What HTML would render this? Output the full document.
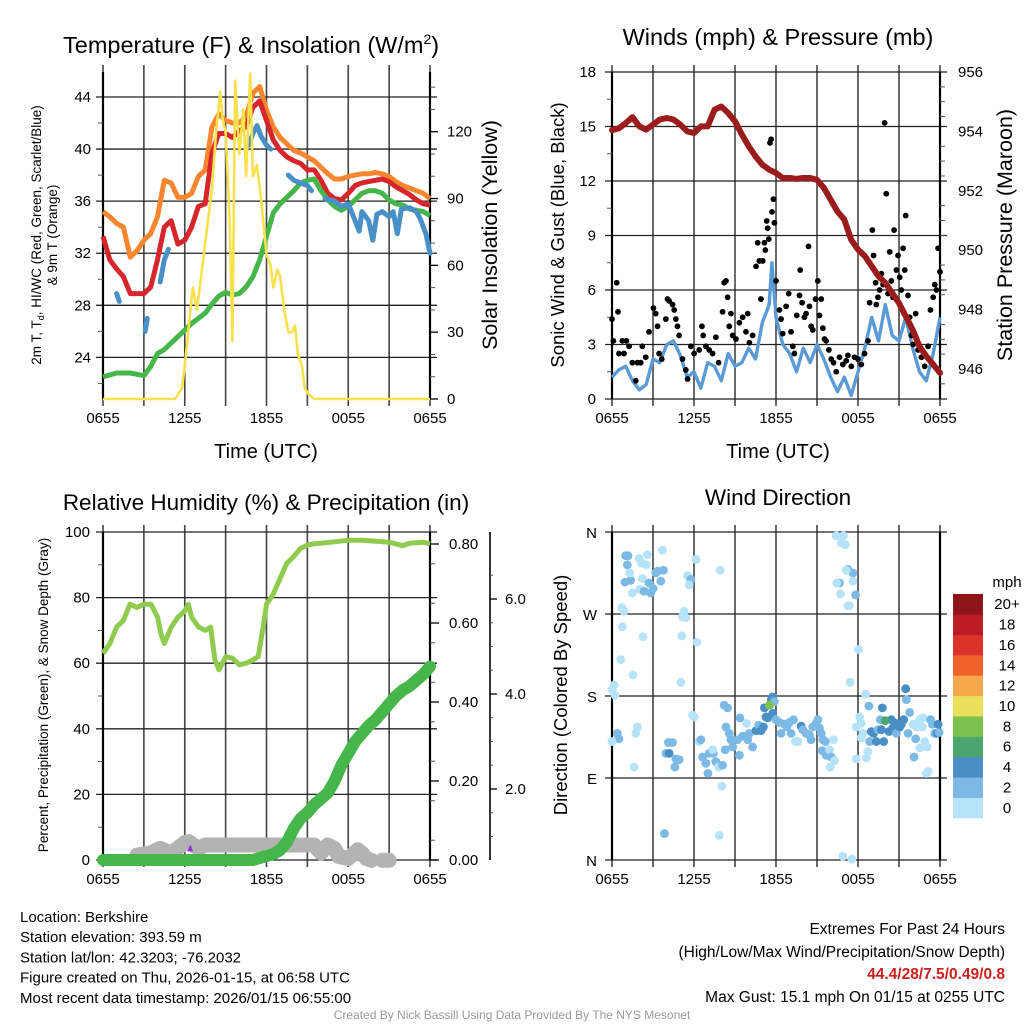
<!DOCTYPE html>
<html><head><meta charset="utf-8"><title>Mesonet Meteogram</title>
<style>
html,body{margin:0;padding:0;background:#fff;}
svg{display:block;font-family:"Liberation Sans",Arial,sans-serif;}
</style></head>
<body>
<svg id="fig" width="1024" height="1024" viewBox="0 0 1024 1024"></svg>
<script>
// ===== DATA =====
// Temperature panel (hours since 0655 UTC)
const tHours = [0,0.5,1,1.5,2,2.5,3,3.5,4,4.5,5,5.5,6,6.5,7,7.5,8,8.5,9,9.5,10,10.5,11,11.5,12,12.5,13,13.5,14,14.5,15,15.5,16,16.5,17,17.5,18,18.5,19,19.5,20,20.5,21,21.5,22,22.5,23,23.5,24];
const temp2m = [33.3,31.5,30.8,30.2,28.9,28.9,28.9,29.4,31.5,34,34.5,32.7,33,34,35.6,35.8,39.7,41.2,41.2,40.9,41.4,41.7,43.2,43.7,42.2,40.7,39.9,39.4,39.1,38.9,38.4,38.4,37.6,36.6,36.2,36.1,36.6,37.2,37.4,37.5,37.6,37.7,37.5,37.1,36.8,36.5,36.1,35.8,35.7];
const temp9m = [35.2,34.8,34.3,34,31.7,32.2,33,33.5,34.8,37.6,37.4,36.3,36.3,36.6,37.9,38.4,41.7,42.7,42.2,42,42,42.5,44.3,44.8,43,41.7,40.9,40.4,39.9,39.7,39.4,39.1,38.6,38.1,37.7,37.7,37.9,38,38.1,38.1,38.2,38.1,37.9,37.5,37.2,37,36.8,36.6,36.2];
const dewHours = [0,1,2,3,3.5,4,4.5,5,5.5,6,6.5,7,7.5,8,8.5,9,9.5,10,10.5,11,11.5,12,12.5,13,13.5,14,14.5,15,15.5,16,16.5,17,17.5,18,18.5,19,19.5,20,20.5,21,21.5,22,22.5,23,23.5,24];
const dewpoint = [22.5,22.8,22.8,22.6,23.3,24.3,24.6,25.1,25.6,26.1,26.6,27,27.4,28.1,28.7,29,28.8,28.9,29.4,30.2,31.5,33.3,35.1,35.8,36.3,36.8,37.4,37.6,37.7,36.8,36.1,35.6,35.3,35.6,36.1,36.6,36.8,36.8,36.6,36.1,35.8,35.7,35.4,35.3,35.2,34.9];
const hiwcHours = [1.0,1.2,null,3.1,3.25,null,4.2,4.5,4.8,null,10.7,11.0,11.3,11.6,12.0,12.3,null,13.6,14.0,14.5,15.0,15.3,null,16.3,17,17.5,18,18.5,18.8,19,19.5,19.8,20.1,20.5,21,21.3,21.6,21.9,22.5,23,23.3,23.7,24];
const hiwc = [28.9,28.3,null,26.0,27.0,null,29.8,31.5,32.3,null,40.3,41.2,41.8,41.0,40.3,40.0,null,38.0,37.6,37.4,37.2,36.8,null,36.2,36,35.6,35.8,34.5,33.7,35.2,34.5,33,35,35.2,34.8,35.2,33.5,35.4,35.5,35.2,34.6,33.5,32];
const solarHours = [0,5.3,5.8,6,6.5,6.6,6.9,7.2,7.6,8,8.3,8.6,8.8,9,9.3,9.5,9.7,10,10.3,10.5,10.8,11,11.3,11.6,12,12.3,12.5,12.8,13,13.3,13.6,13.9,14.1,14.3,14.6,14.8,15.1,15.5,24];
const solar = [0,0,5,15,45,50,40,55,75,95,120,138,125,120,80,26,143,110,130,100,146,100,105,90,65,60,50,58,55,40,30,30,33,20,15,5,2,0,0];
const tempTicks = [24,28,32,36,40,44];
const solarTicks = [0,30,60,90,120];
const timeTickLabels = ["0655","1255","1855","0055","0655"];

// Wind panel
const windHours = [0,0.5,1,1.5,2,2.5,3,3.5,4,4.5,5,5.5,6,6.5,7,7.5,8,8.5,9,9.5,10,10.5,11,11.5,11.7,12,12.5,13,13.5,14,14.5,15,15.5,16,16.5,17,17.5,18,18.5,19,19.5,20,20.5,21,21.5,22,22.5,23,23.5,24];
const sonicWind = [1.2,1.6,1.8,1,0.5,0.8,2.2,2,3,3.2,2.4,1.2,1.5,0.6,2,1.8,1,2.5,1.8,2,2.8,2.2,4.2,5.2,7.5,4.5,3,2.5,1.5,2.8,2,3,2.2,1.2,0.4,1.2,0.2,1.5,2.8,4.5,3.2,5.2,3.5,3.2,4.5,2.8,1.5,1,2.5,4.5];
const presHours = tHours;
const pressure = [954.04,954.1,954.28,954.48,954.17,954.06,954.23,954.4,954.45,954.4,954.23,954,953.95,954.17,954.17,954.73,954.84,954.62,954.34,953.9,953.5,953.16,952.88,952.71,952.6,952.43,952.43,952.4,952.43,952.43,952.37,952.1,951.7,951.3,951.03,950.35,950.02,949.8,949.46,949.12,948.9,948.56,948.22,947.77,947.32,946.76,946.43,946.15,945.87];
const gustHours = [0.0,0.1,0.34,0.44,0.51,0.76,0.88,1.05,1.25,1.49,1.74,1.86,2.1,2.22,2.47,2.71,3.03,3.2,3.33,3.45,3.64,3.94,4.06,4.18,4.43,4.55,4.67,4.79,4.91,5.16,5.4,5.53,5.77,6.01,6.38,6.58,6.67,6.87,7.11,7.36,7.6,7.8,8.09,8.21,8.34,8.46,8.58,8.7,8.83,9.07,9.32,9.56,9.8,9.93,10.05,10.29,10.54,10.66,10.78,10.9,11.03,11.15,11.22,11.32,11.39,11.47,11.56,11.64,11.71,11.81,11.88,12.0,12.25,12.37,12.49,12.74,12.93,13.1,13.23,13.35,13.52,13.72,13.77,13.91,14.08,14.2,14.38,14.45,14.57,14.69,14.89,15.06,15.18,15.31,15.43,15.55,15.67,15.87,16.04,16.21,16.41,16.65,16.89,17.14,17.26,17.51,17.75,18.0,18.24,18.48,18.73,18.85,19.05,19.14,19.29,19.34,19.46,19.58,19.71,19.83,19.95,20.07,20.2,20.32,20.44,20.56,20.64,20.81,20.93,21.05,21.17,21.3,21.42,21.49,21.66,21.78,21.91,22.03,22.22,22.4,22.64,22.88,23.13,23.3,23.5,23.62,23.74,23.86,24.0];
const gusts = [4.4,3.2,6.4,4.8,2.5,3.2,2.5,3.2,2.9,2,1,2,2,2.9,2.3,3.7,5,4.7,4,2.5,2.2,4.4,5.5,5.4,5.2,4.9,4.4,4,3.5,2.2,1.6,1.1,2.9,2.5,2.7,4,3.5,2.9,2.7,2.5,3.4,2,4.8,6.4,6.5,5.6,4,4.7,3.5,3.3,4.2,4.5,3.7,4.7,3.1,3.5,7.3,8.6,7.6,5.5,7.6,8.6,8.2,9.8,9.4,8.8,14.1,14.3,10.3,11,9.7,6.5,4.9,4.4,3.6,5.1,5.8,3.7,2.9,2.5,4.6,5.7,7.1,5.3,4.5,4.7,8.4,5.1,4,3.8,5.5,6.5,4.6,5.5,3.9,3.3,3.2,2.7,2.2,2,1.5,2.3,1.9,2.1,2.4,1.8,2.3,2.2,1.9,2.5,3.2,5.3,9.3,7.9,6.4,5.2,5.6,6,6.9,6.3,15.2,11.3,5.8,8.1,6.5,5.6,9.3,7.1,7.9,6.7,6,8.3,7.1,10.1,5.7,4.5,3.5,3,4.7,2.7,2.3,1.8,2.9,4.9,5.6,6.3,6,8.3,7];
const windTicks = [0,3,6,9,12,15,18];
const presTicks = [946,948,950,952,954,956];

// RH / precip panel
const rhHours = [0,0.51,1.0,1.49,1.98,2.47,3.03,3.52,4.01,4.25,4.5,5.01,5.5,6.01,6.26,6.5,7.02,7.51,7.9,8.21,8.51,9.02,9.51,10.0,10.51,11.0,11.39,11.76,12.0,12.49,13.01,13.5,14.01,14.5,15.01,15.5,15.99,16.99,18.0,19.0,20.0,21.0,21.49,22.0,22.49,23.5,24];
const rh = [63,66,71,73,78,77,78,78,74,69,66,71,74,76,78,74,71,70,71,61,58,62,61.5,59.5,60,61,62,71,78,81,86,90.5,92.6,95,96,96.4,96.6,97,97.5,97.5,97.2,96.9,96.4,95.8,96.6,96.9,96.4];
const precipHours = [0,11,12,12.5,13,13.5,14,14.5,15,15.5,16,16.5,17,17.5,18,18.5,19,19.5,20,20.5,21,21.5,22,22.5,23,23.5,24];
const precip = [0,0,0.01,0.015,0.025,0.045,0.08,0.105,0.12,0.14,0.155,0.17,0.2,0.24,0.27,0.3,0.32,0.34,0.355,0.375,0.395,0.415,0.43,0.44,0.455,0.47,0.49];
const snowHours = [2.5,3.5,4.2,5,6,6.3,7,7.5,8,9,10,11,12,13,14,15,15.5,15.7,16,16.5,17,17.3,18,18.7,19,19.3,19.7,null,20.5,21];
const snowDepth = [0.61,0.65,0.75,0.65,0.87,0.89,0.75,0.82,0.82,0.82,0.82,0.82,0.82,0.82,0.82,0.82,0.82,0.75,0.65,0.82,0.75,0.58,0.54,0.72,0.65,0.54,0.5,null,0.5,0.5];
const snowfallMarkHours = [6.4];
const snowfallMarkDepth = [0.75];
const rhTicks = [0,20,40,60,80,100];
const precipTicks = [0,0.2,0.4,0.6,0.8];
const snowTicks = [2,4,6];

// Wind direction panel
const dirHours = [1.0,1.17,1.12,0.95,1.37,1.3,1.49,1.98,2.15,2.59,2.52,2.22,2.03,2.35,2.71,2.84,3.01,3.2,3.33,3.57,3.77,3.69,0.71,0.88,0.76,2.27,0.64,1.54,0.15,0.02,0.22,
0.39,0.51,0.0,1.86,1.74,1.61,3.94,4.13,4.43,4.18,4.67,4.91,4.6,3.84,
5.28,5.16,5.4,5.11,6.21,5.04,5.53,5.77,5.65,6.14,7.92,
5.89,6.01,6.38,6.5,6.63,6.87,7.02,7.11,7.41,7.6,7.8,8.09,8.29,8.04,7.85,7.36,
8.21,8.46,8.34,8.58,8.7,8.83,9.19,9.32,9.36,9.56,9.85,9.93,10.05,10.29,10.54,10.73,10.9,11.08,11.15,11.27,11.66,11.76,11.88,11.76,11.39,
12.0,12.25,12.37,12.62,12.79,12.98,13.1,13.28,13.42,13.59,13.84,13.96,14.2,14.45,14.57,14.69,14.94,15.06,15.18,15.31,15.43,15.62,15.38,15.67,15.92,16.04,16.28,15.97,16.21,
16.41,16.94,16.77,17.07,17.26,17.63,17.14,16.65,16.45,17.63,17.82,16.72,17.26,17.38,18.04,17.43,16.89,17.55,
18.56,18.8,18.12,18.24,18.36,18.24,17.87,17.87,18.73,18.61,18.97,19.14,18.85,19.34,19.46,19.71,19.78,19.88,19.63,20.27,20.44,20.56,20.76,20.81,21.05,21.17,21.34,21.49,21.54,21.78,21.66,22.03,22.27,22.22,22.52,22.76,22.71,22.88,23.06,22.52,23.3,23.45,23.62,23.79,23.94,23.86,22.1,23.0,23.13,11.52,20.0];
const dirDeg = [334,334,324,305,307,315,293,331,326,335,324,309,297,295,304,293,298,315,317,306,318,340,277,273,256,245,220,203,192,187,181,
139,133,130,146,139,102,117,129,129,117,111,110,102,29,
273,267,266,246,239,195,312,308,302,330,318,
159,157,130,132,113,106,95,117,117,108,102,104,121,81,27,121,
170,167,146,139,132,124,132,115,156,136,150,132,139,124,142,148,142,146,167,157,176,179,174,161,156,
154,151,139,149,146,151,139,154,130,130,147,143,139,137,132,146,150,154,145,139,132,130,120,115,121,113,109,102,132,
356,356,348,346,319,315,318,304,304,306,291,292,279,279,231,195,4,1,
182,169,157,150,139,134,146,111,119,112,141,139,130,130,143,143,167,130,154,141,154,145,150,139,146,149,154,188,176,162,139,149,146,133,154,156,146,130,124,123,154,149,139,139,140,149,113,95,97,170,153];
const dirSpeed = [3,3,3,3,3,1,1,1,1,1,1,1,1,3,3,3,3,3,3,3,3,1,1,1,1,1,1,1,1,1,1,
3,3,1,1,1,1,3,3,3,5,3,3,3,3,
1,1,1,1,1,1,1,3,1,1,1,
1,1,1,3,3,3,3,3,3,3,1,3,3,1,1,1,
3,3,3,3,3,3,3,3,3,3,1,3,3,3,5,3,5,5,5,5,5,5,3,5,5,
3,3,3,3,3,3,3,3,1,1,5,3,3,3,3,3,3,3,3,3,3,3,3,3,1,3,1,1,1,
1,1,1,1,3,3,1,3,1,1,3,1,1,1,1,1,1,1,
1,3,1,1,1,1,1,1,1,1,5,5,3,5,3,5,5,5,3,5,5,5,5,3,5,5,5,5,3,3,3,1,1,3,1,1,1,1,1,1,3,3,3,5,3,5,3,1,1,8,6];
const dirTicks = [0,90,180,270,360];
const dirTickLabels = ["N","E","S","W","N"];
const speedBins = ["0","2","4","6","8","10","12","14","16","18","20+"];
const binColors = ["#b6e3f8","#7cb9e4","#4a8ec6","#4aa56e","#7cc24c","#e8e05a","#f6a94a","#f0612b","#dc3328","#bb1c26","#8e1518"];

// ===== DRAWING =====
const NS = "http://www.w3.org/2000/svg";
const svg = document.getElementById('fig');
function mk(tag, attrs, parent){
  const e = document.createElementNS(NS, tag);
  for (const k in attrs) e.setAttribute(k, attrs[k]);
  (parent || svg).appendChild(e);
  return e;
}
function txt(s, x, y, size, anchor, extra){
  const e = mk('text', Object.assign({x:x, y:y, 'font-size':size, 'text-anchor':anchor||'start', fill:'#000'}, extra||{}));
  e.textContent = s;
  return e;
}
function pathD(ts, vs, fx, fy){
  let d = '', pen = false;
  for (let i=0;i<ts.length;i++){
    if (ts[i]===null || vs[i]===null){ pen=false; continue; }
    d += (pen?'L':'M') + fx(ts[i]).toFixed(1) + ',' + fy(vs[i]).toFixed(1);
    pen = true;
  }
  return d;
}
const T = 72, B = 399, T2 = 532, B2 = 860;
const L1 = 103, R1 = 430, L2 = 612, R2 = 940;
const xL = h => L1 + h * (R1-L1)/24;
const xR = h => L2 + h * (R2-L2)/24;
const yT = v => 97 + (44 - v) * 13.02;
const yS = v => B - v * 2.2275;
const yW = v => B - v * (B-T)/18;
const yP = v => T + (956 - v) * 29.7;
const yR = v => B2 - v * (B2-T2)/100;
const yPr = v => B2 - v * 395;
const ySn = v => 884 - v * 47.5;
const yD = v => B2 - v * (B2-T2)/360;

function grid(L, R, top, bot, fx, hY, name){
  const g = mk('g', {});
  
  
  for (let i=0;i<=8;i++){
    const x = fx(i*3);
    const ln = mk('line', {x1:x, x2:x, y1:top-7, y2:bot+7, stroke:'#444', 'stroke-width':1.6}, g);
    
    
  }
  hY.forEach(y => {
    const ln = mk('line', {x1:L-7, x2:R+7, y1:y, y2:y, stroke:'#222', 'stroke-width':1.3}, g);
    
    
  });
  const bl = mk('line', {x1:L, x2:L, y1:top, y2:bot, stroke:'#000', 'stroke-width':2.2}, g);
  
  
  const br = mk('line', {x1:R, x2:R, y1:top, y2:bot, stroke:'#000', 'stroke-width':2.2}, g);
  
  
  timeTickLabels.forEach((s,i) => {
    const t = txt(s, fx(i*6), bot+24, 15, 'middle');
    
    
  });
}
function minor(x, y, len){
  const ln = mk('line', {x1:x, x2:x+len, y1:y, y2:y, stroke:'#555', 'stroke-width':1});
  
  
}
function rotText(s, x, y, size, name){
  const t = txt(s, 0, 0, size, 'middle', {transform:'translate('+x+','+y+') rotate(-90)'});
  
  
  return t;
}

// ---- Panel 1: Temperature ----
grid(L1, R1, T, B, xL, tempTicks.map(yT), 'temperature');
tempTicks.forEach(v => { const t = txt(String(v), L1-12, yT(v)+5, 15, 'end');   });
for (let v=22; v<=46; v+=2) if (yT(v)>T && yT(v)<B && v%4) minor(L1-5, yT(v), 5);
solarTicks.forEach(v => {
  const tk = mk('line', {x1:R1, x2:R1+8, y1:yS(v), y2:yS(v), stroke:'#000', 'stroke-width':1.3});
   
  const t = txt(String(v), R1+17, yS(v)+5, 15, 'start');  
});
for (let v=10; v<150; v+=10) if (v%30) minor(R1, yS(v), 5);
const p9 = mk('path', {d:pathD(tHours, temp9m, xL, yT), fill:'none', stroke:'#f7862f', 'stroke-width':5, 'stroke-linejoin':'round'});
 
const p2 = mk('path', {d:pathD(tHours, temp2m, xL, yT), fill:'none', stroke:'#d7262b', 'stroke-width':5, 'stroke-linejoin':'round'});
 
const pd = mk('path', {d:pathD(dewHours, dewpoint, xL, yT), fill:'none', stroke:'#45b649', 'stroke-width':5, 'stroke-linejoin':'round'});
 
const ph = mk('path', {d:pathD(hiwcHours, hiwc, xL, yT), fill:'none', stroke:'#4a90c8', 'stroke-width':5, 'stroke-linejoin':'round', 'stroke-linecap':'round'});
 
const ps = mk('path', {d:pathD(solarHours, solar, xL, yS), fill:'none', stroke:'#f7e14d', 'stroke-width':2.6, 'stroke-linejoin':'round'});
 
const t1 = txt('Temperature (F) & Insolation (W/m', 63, 53, 23.5, 'start');
const sup = mk('tspan', {dy:-9, 'font-size':14}, t1); sup.textContent = '2';
const cl = mk('tspan', {dy:9}, t1); cl.textContent = ')';
 
const yat = rotText('2m T, T', 41, 235, 13.5, 'temperature-y-axis-title');
const sub = mk('tspan', {dy:3, 'font-size':9}, yat); sub.textContent = 'd';
const rest = mk('tspan', {dy:-3}, yat); rest.textContent = ', HI/WC (Red, Green, Scarlet/Blue)';
rotText('& 9m T (Orange)', 57, 235, 13.5, 'temperature-y-axis-title-line2');
rotText('Solar Insolation (Yellow)', 497, 235, 21.5, 'solar-y-axis-title');
const xt1 = txt('Time (UTC)', 266, 458, 20, 'middle');  

// ---- Panel 2: Winds ----
grid(L2, R2, T, B, xR, windTicks.map(yW), 'wind');
windTicks.forEach(v => { const t = txt(String(v), L2-16, yW(v)+5, 15, 'end');   });
for (let v=1.5; v<18; v+=3) minor(L2-5, yW(v), 5);
presTicks.forEach(v => { const t = txt(String(v), R2+18, yP(v)+5, 15, 'start');   });
for (let v=945.5; v<956; v+=0.5) if (yP(v)<B && (v*2)%4) minor(R2, yP(v), 5);
const pw = mk('path', {d:pathD(windHours, sonicWind, xR, yW), fill:'none', stroke:'#5b9bd5', 'stroke-width':3.4, 'stroke-linejoin':'round'});
 
const gg = mk('g', {});  
gustHours.forEach((h,i) => {
  const c = mk('circle', {cx:xR(h), cy:yW(gusts[i]), r:2.9, fill:'#000'}, gg);
  
  
});
const pp = mk('path', {d:pathD(presHours, pressure, xR, yP), fill:'none', stroke:'#9b1c1c', 'stroke-width':6, 'stroke-linejoin':'round', 'stroke-linecap':'round'});
 
const t2 = txt('Winds (mph) & Pressure (mb)', 778, 45, 23.5, 'middle');  
rotText('Sonic Wind & Gust (Blue, Black)', 564, 235, 18.5, 'wind-y-axis-title');
rotText('Station Pressure (Maroon)', 1012, 235, 21.5, 'pressure-y-axis-title');
const xt2 = txt('Time (UTC)', 778, 458, 20, 'middle');  

// ---- Panel 3: RH & precip ----
grid(L1, R1, T2, B2, xL, rhTicks.map(yR), 'humidity');
rhTicks.forEach(v => { const t = txt(String(v), L1-13, yR(v)+5, 15, 'end');   });
for (let v=10; v<100; v+=20) minor(L1-5, yR(v), 5);
precipTicks.forEach(v => {
  const tk = mk('line', {x1:R1, x2:R1+9, y1:yPr(v), y2:yPr(v), stroke:'#000', 'stroke-width':1.3});
   
  const t = txt(v.toFixed(2), R1+19, yPr(v)+5, 15, 'start');  
});
for (let v=0.05; v<0.84; v+=0.1) minor(R1, yPr(v), 5);
const sa = mk('line', {x1:490, x2:490, y1:T2, y2:B2, stroke:'#000', 'stroke-width':1.6});
 
snowTicks.forEach(v => {
  const tk = mk('line', {x1:490, x2:497, y1:ySn(v), y2:ySn(v), stroke:'#000', 'stroke-width':1.3});
   
  const t = txt(v.toFixed(1), 505, ySn(v)+5, 15, 'start');  
});
for (let v=0.5; v<7; v+=0.5) if (ySn(v)>T2 && ySn(v)<B2 && v%2) minor(490, ySn(v), 3);
const pr = mk('path', {d:pathD(rhHours, rh, xL, yR), fill:'none', stroke:'#8fcb4f', 'stroke-width':5, 'stroke-linejoin':'round'});
 
const psn = mk('path', {d:pathD(snowHours, snowDepth, xL, ySn), fill:'none', stroke:'#b3b3b3', 'stroke-width':15, 'stroke-linejoin':'round', 'stroke-linecap':'round'});
 
const ppr = mk('path', {d:pathD(precipHours, precip, xL, yPr), fill:'none', stroke:'#45b649', 'stroke-width':12, 'stroke-linejoin':'round', 'stroke-linecap':'round'});
 
snowfallMarkHours.forEach((h,i) => {
  const x = xL(h), y = ySn(snowfallMarkDepth[i]);
  const m = mk('polygon', {points:(x-3)+','+(y+3)+' '+(x+3)+','+(y+3)+' '+x+','+(y-4), fill:'#9b30e0'});
  
  
});
const t3 = txt('Relative Humidity (%) & Precipitation (in)', 266, 510, 22.5, 'middle');  
rotText('Percent, Precipitation (Green), & Snow Depth (Gray)', 48, 695, 13.5, 'humidity-y-axis-title');

// ---- Panel 4: Wind direction ----
grid(L2, R2, T2, B2, xR, dirTicks.map(yD), 'direction');
dirTicks.forEach((v,i) => { const t = txt(dirTickLabels[i], L2-15, yD(v)+6, 15, 'end');   });
const dg = mk('g', {});  
dirHours.forEach((h,i) => {
  const bin = Math.min(10, Math.floor(dirSpeed[i]/2));
  const c = mk('circle', {cx:xR(h), cy:yD(dirDeg[i]), r:4.4, fill:binColors[bin]}, dg);
  
  
});
const t4 = txt('Wind Direction', 778, 505, 22.5, 'middle');  
rotText('Direction (Colored By Speed)', 567, 695, 18.5, 'direction-y-axis-title');
// colorbar
const cb = mk('g', {});  
const boxH = (818-594)/11;
speedBins.forEach((s,i) => {
  const y = 818 - (i+1)*boxH;
  const r = mk('rect', {x:953, y:y, width:30, height:boxH+0.3, fill:binColors[i]}, cb);
  
  
  const t = txt(s, 1007, y+boxH/2+5, 15, 'middle');
  
  
});
const mph = txt('mph', 1007, 587, 15, 'middle');  

// ---- Footer ----
const leftLines = ['Location: Berkshire','Station elevation: 393.59 m','Station lat/lon: 42.3203; -76.2032','Figure created on Thu, 2026-01-15, at 06:58 UTC','Most recent data timestamp: 2026/01/15 06:55:00'];
leftLines.forEach((s,i) => { const t = txt(s, 20, 922 + i*20.2, 15, 'start');   });
const r1 = txt('Extremes For Past 24 Hours', 1005, 934, 15.5, 'end');  
const r2 = txt('(High/Low/Max Wind/Precipitation/Snow Depth)', 1005, 957, 15.5, 'end');  
const r3 = txt('44.4/28/7.5/0.49/0.8', 1005, 979, 15.5, 'end', {fill:'#cc2020','font-weight':'bold'});  
const r4 = txt('Max Gust: 15.1 mph On 01/15 at 0255 UTC', 1005, 1002, 15.5, 'end');  
const cr = txt('Created By Nick Bassill Using Data Provided By The NYS Mesonet', 512, 1019, 12, 'middle', {fill:'#999'});  
</script>
</body></html>
